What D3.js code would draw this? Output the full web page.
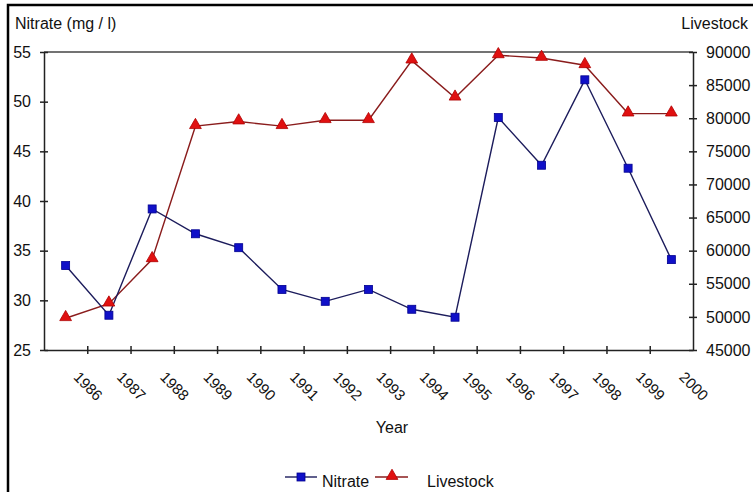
<!DOCTYPE html>
<html>
<head>
<meta charset="utf-8">
<script src="https://cdn.jsdelivr.net/npm/d3@7/dist/d3.min.js"></script>
<style>
  html, body { margin: 0; padding: 0; background: #fff; }
  svg { display: block; }
  text { font-family: "Liberation Sans", Arial, sans-serif; fill: #111; }
</style>
</head>
<body>
<svg id="chart" width="753" height="492"></svg>
<script>
const years = ["1986","1987","1988","1989","1990","1991","1992","1993","1994","1995","1996","1997","1998","1999","2000"];
const nitrate = [33.5, 28.5, 39.2, 36.7, 35.3, 31.1, 29.9, 31.1, 29.1, 28.3, 48.4, 43.6, 52.2, 43.3, 34.1];
const livestock = [49800, 52000, 58700, 78800, 79500, 78800, 79700, 79700, 88700, 83100, 89500, 89100, 88000, 80700, 80700];
const leftTicks = [25, 30, 35, 40, 45, 50, 55];
const rightTicks = [45000, 50000, 55000, 60000, 65000, 70000, 75000, 80000, 85000, 90000];

const svg = d3.select("#chart");
const mLeft = 44, mRight = 693, mTop = 52, mBottom = 350;
const FF = "'Liberation Sans', Arial, sans-serif";

// outer frame
svg.append("rect").attr("x", 8).attr("y", 5).attr("width", 800).attr("height", 600)
  .attr("fill", "none").attr("stroke", "#000").attr("stroke-width", 2.5);

const x = d3.scaleBand().domain(years).range([mLeft, mRight]).padding(0);
const xb = d3.scaleLinear().domain([0, years.length]).range([mLeft, mRight]);
const yL = d3.scaleLinear().domain([25, 55]).range([mBottom, mTop]);
const yR = d3.scaleLinear().domain([45000, 90000]).range([mBottom, mTop]);

const axisColor = "#222";

// top border of plot area
svg.append("line").attr("x1", mLeft).attr("x2", mRight).attr("y1", mTop).attr("y2", mTop)
  .attr("stroke", "#444").attr("stroke-width", 1.5);

// x axis with ticks at category boundaries
const gx = svg.append("g").attr("transform", `translate(0,${mBottom})`)
  .call(d3.axisBottom(xb).tickValues(d3.range(1, years.length)).tickFormat("").tickSize(4).tickSizeOuter(0));
gx.selectAll(".tick line").attr("y1", -4).attr("y2", 4);
gx.selectAll("path, line").attr("stroke", axisColor).attr("stroke-width", 1.5);

// x labels
svg.append("g").selectAll("text").data(years).join("text")
  .attr("transform", d => `translate(${x(d) + x.bandwidth() / 2 + 7},${mBottom + 28}) rotate(45)`)
  .attr("text-anchor", "start")
  .attr("font-size", 15)
  .text(d => d);

// left axis
const gl = svg.append("g").attr("transform", `translate(${mLeft},0)`)
  .call(d3.axisLeft(yL).tickValues(leftTicks).tickSize(4).tickSizeOuter(0).tickPadding(9));
gl.selectAll(".tick line").attr("x1", -4).attr("x2", 4);
gl.selectAll("path, line").attr("stroke", axisColor).attr("stroke-width", 1.5);
gl.selectAll("text").attr("font-size", 16).attr("font-family", FF).attr("fill", "#111");

// right axis
const gr = svg.append("g").attr("transform", `translate(${mRight},0)`)
  .call(d3.axisRight(yR).tickValues(rightTicks).tickFormat(d3.format("d")).tickSize(4).tickSizeOuter(0).tickPadding(9));
gr.selectAll(".tick line").attr("x1", -4).attr("x2", 4);
gr.selectAll("path, line").attr("stroke", axisColor).attr("stroke-width", 1.5);
gr.selectAll("text").attr("font-size", 16).attr("font-family", FF).attr("fill", "#111");

// titles
svg.append("text").attr("x", 15).attr("y", 29).attr("font-size", 16).text("Nitrate (mg / l)");
svg.append("text").attr("x", 748).attr("y", 29).attr("font-size", 16).attr("text-anchor", "end").text("Livestock");
svg.append("text").attr("x", 392).attr("y", 433).attr("font-size", 16).attr("text-anchor", "middle").text("Year");

const cx = (d, i) => x(years[i]) + x.bandwidth() / 2;

// livestock line
const lineR = d3.line().x((d, i) => cx(d, i)).y(d => yR(d));
svg.append("path").datum(livestock).attr("d", lineR)
  .attr("fill", "none").attr("stroke", "#8a1c1c").attr("stroke-width", 1.4);

// nitrate line
const lineL = d3.line().x((d, i) => cx(d, i)).y(d => yL(d));
svg.append("path").datum(nitrate).attr("d", lineL)
  .attr("fill", "none").attr("stroke", "#1c1c5c").attr("stroke-width", 1.4);

const tri = d3.symbol().type(d3.symbolTriangle).size(60);
svg.append("g").selectAll("path").data(livestock).join("path")
  .attr("d", tri)
  .attr("transform", (d, i) => `translate(${cx(d, i)},${yR(d) - 1})`)
  .attr("fill", "#e01010").attr("stroke", "#b00000").attr("stroke-width", 0.8);

svg.append("g").selectAll("rect").data(nitrate).join("rect")
  .attr("x", (d, i) => cx(d, i) - 4).attr("y", d => yL(d) - 4)
  .attr("width", 8).attr("height", 8)
  .attr("fill", "#1010c8").attr("stroke", "#000090").attr("stroke-width", 0.8);

// legend
const lg = svg.append("g");
lg.append("line").attr("x1", 285).attr("x2", 317).attr("y1", 477).attr("y2", 477).attr("stroke", "#1c1c5c").attr("stroke-width", 1.4);
lg.append("rect").attr("x", 297).attr("y", 473).attr("width", 8).attr("height", 8).attr("fill", "#1010c8").attr("stroke", "#000090").attr("stroke-width", 0.8);
lg.append("text").attr("x", 322).attr("y", 487).attr("font-size", 16).text("Nitrate");
lg.append("line").attr("x1", 375).attr("x2", 408).attr("y1", 477).attr("y2", 477).attr("stroke", "#8a1c1c").attr("stroke-width", 1.4);
lg.append("path").attr("d", tri).attr("transform", "translate(392,476)").attr("fill", "#e01010").attr("stroke", "#b00000").attr("stroke-width", 0.8);
lg.append("text").attr("x", 427).attr("y", 487).attr("font-size", 16).text("Livestock");
</script>
</body>
</html>
